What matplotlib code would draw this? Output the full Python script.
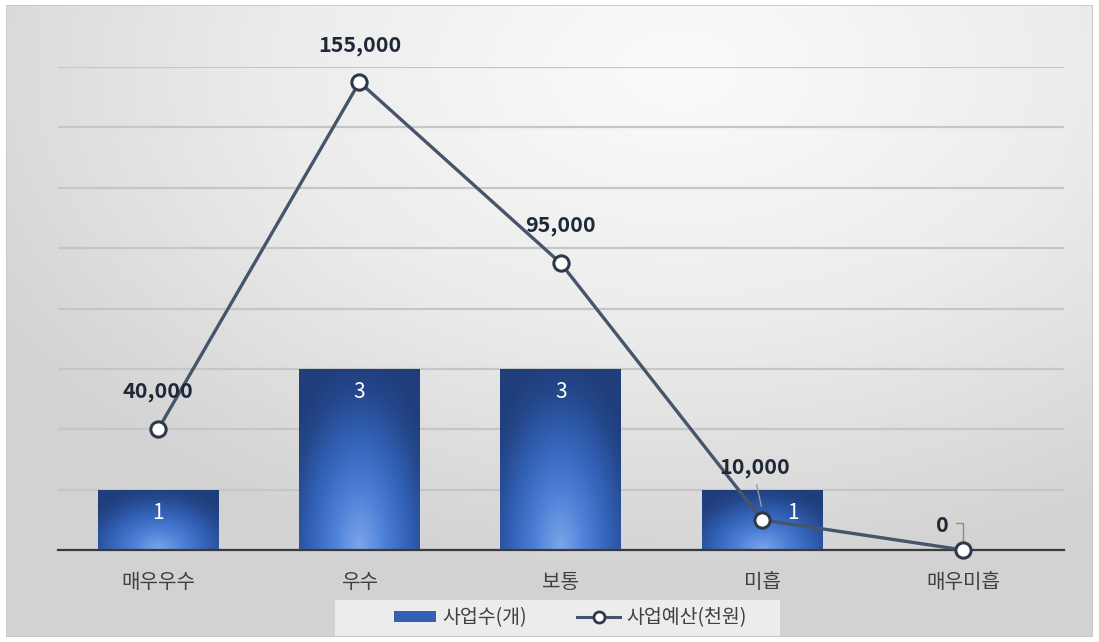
import numpy as np
import matplotlib
matplotlib.use("Agg")
import matplotlib.pyplot as plt
from matplotlib.patches import Patch, Rectangle
from matplotlib.lines import Line2D
from matplotlib.colors import LinearSegmentedColormap

plt.rcParams['font.family'] = ['Noto Sans CJK KR', 'DejaVu Sans']

categories = ['매우우수', '우수', '보통', '미흡', '매우미흡']
counts = [1, 3, 3, 1, 0]
budgets = [40000, 155000, 95000, 10000, 0]
budget_labels = ['40,000', '155,000', '95,000', '10,000', '0']
series_names = ['사업수(개)', '사업예산(천원)']

W, H = 1099, 642
fig = plt.figure(figsize=(W / 100, H / 100), dpi=100)
fig.patch.set_facecolor('white')

# background frame with radial gradient
bg = fig.add_axes([6 / W, 5 / H, 1087 / W, 632 / H])
bg.set_axis_off()
ny, nx = 200, 340
yy, xx = np.mgrid[0:1:ny * 1j, 0:1:nx * 1j]
d = np.sqrt(((xx - 0.62) / 1.0) ** 2 + ((yy - 0.1) / 1.1) ** 2)
d = np.clip(d / 0.75, 0, 1)
bgcmap = LinearSegmentedColormap.from_list('bg', ['#fbfbfb', '#ececec', '#d2d2d2'])
bg.imshow(d, cmap=bgcmap, aspect='auto', extent=[0, 1, 1, 0], vmin=0, vmax=1)
bg.add_patch(Rectangle((0, 0), 1, 1, transform=bg.transAxes, fill=False,
                       edgecolor='#c8c8c8', lw=1.2))
# legend box
bg.add_patch(Rectangle(((335 - 6) / 1087, 1 / 632), (780 - 335) / 1087, 36 / 632,
                       transform=bg.transAxes, facecolor='#ececec', edgecolor='none', zorder=3))

ax = fig.add_axes([57.5 / W, (H - 550) / H, 1006.5 / W, 483 / H])
ax.set_facecolor('none')
x = np.arange(len(categories))
ax.set_xlim(-0.5, len(categories) - 0.5)
ax.set_ylim(0, 8)
ax.set_yticks(np.arange(0, 9, 1))
ax.yaxis.grid(True, color='#c6c6c6', lw=1.6)
ax.set_axisbelow(True)
for s in ['top', 'right', 'left']:
    ax.spines[s].set_visible(False)
ax.spines['bottom'].set_color('#3a3a3a')
ax.spines['bottom'].set_linewidth(1.6)
ax.set_xticks(x)
ax.set_xticklabels(categories, fontsize=14.5, color='#404040')

bar_w = 0.6
bars = ax.bar(x, counts, width=bar_w, color='#3561b5', zorder=2)
barcmap = LinearSegmentedColormap.from_list(
    'bar', [(0.0, '#7ea6ea'), (0.3, '#4d81d7'), (0.6, '#3160b4'), (0.85, '#24468a'), (1.0, '#1f3e7b')])
gy, gx = np.mgrid[0:1:150j, 0:1:80j]
for rect, c in zip(bars, counts):
    if c <= 0:
        continue
    x0, w = rect.get_x(), rect.get_width()
    hgt = rect.get_height()
    u = (gx - 0.5) * 2
    v = gy
    g = np.sqrt((u * 0.75) ** 2 + v ** 2) / 1.05
    g = np.clip(g, 0, 1)
    im = ax.imshow(g, cmap=barcmap, vmin=0, vmax=1, aspect='auto',
                   extent=[x0, x0 + w, 0, hgt], origin='lower', zorder=2.1)
    im.set_clip_path(rect)

label_dx = [0, 0, 0, 0.155, 0]
for i, (rect, c) in enumerate(zip(bars, counts)):
    if c <= 0:
        continue
    ax.text(rect.get_x() + rect.get_width() / 2 + label_dx[i], c - 0.38, str(c),
            ha='center', va='center', color='white', fontsize=15, zorder=7)

ax2 = ax.twinx()
ax2.set_ylim(0, 160000)
ax2.set_axis_off()
ax.tick_params(axis='y', left=False, right=False, labelleft=False)
ax.tick_params(axis='x', bottom=False, pad=12)
ax2.plot(x, budgets, color='#465569', lw=2.4, marker='o', markersize=11,
         markerfacecolor='white', markeredgecolor='#2e3a4c', markeredgewidth=2.2,
         zorder=5, clip_on=False)

ypix = [38, 37, 38, 52, 25]
lab_dx = [0, 0, 0, -0.035, -0.105]
for i, (b, lab) in enumerate(zip(budgets, budget_labels)):
    ax2.annotate(lab, (x[i], b), xytext=(lab_dx[i] * 201, ypix[i]), textcoords='offset pixels',
                 ha='center', va='center', fontsize=15.5, color='#1e2837',
                 fontweight='bold', zorder=6, annotation_clip=False)

# leader lines
ax2.annotate('', xy=(x[3], budgets[3] + 3500), xytext=(x[3] - 0.03, budgets[3] + 12500),
             arrowprops=dict(arrowstyle='-', color='#9a9a9a', lw=1.0), annotation_clip=False)
ax2.plot([x[4] - 0.035, x[4], x[4]], [9000, 9000, 2500], color='#8a8a8a', lw=1.0,
         clip_on=False, zorder=4)

handles = [Patch(facecolor='#3561b5', edgecolor='none'),
           Line2D([0], [0], color='#44546a', lw=2.2, marker='o', markersize=8,
                  markerfacecolor='white', markeredgecolor='#2e3a4c', markeredgewidth=2)]
leg = fig.legend(handles, series_names, loc='center', bbox_to_anchor=(570 / W, (H - 618) / H),
                 ncol=2, frameon=False, fontsize=14, handlelength=2.2, handleheight=0.45,
                 columnspacing=2.6, handletextpad=0.3)
for t in leg.get_texts():
    t.set_color('#404040')

fig.savefig('out.png', dpi=100)
